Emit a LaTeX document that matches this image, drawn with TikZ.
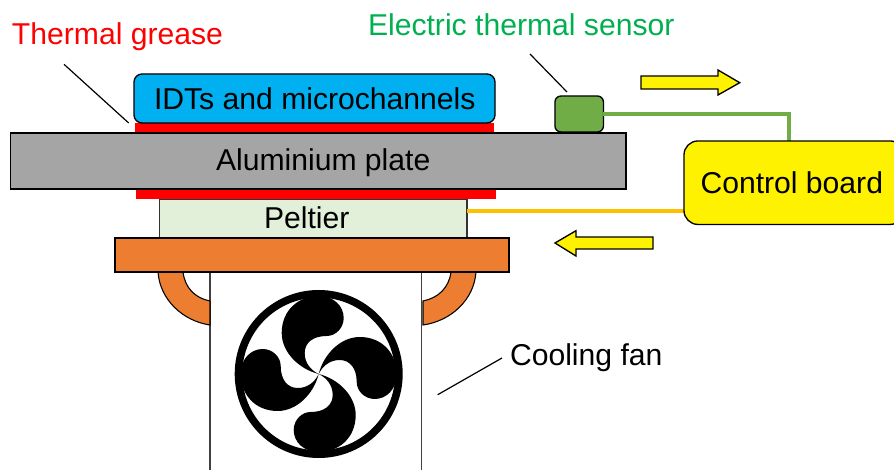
\documentclass[tikz,border=0pt]{standalone}
\usepackage{fontspec}
\setmainfont{Liberation Sans}
\tikzset{
  pxsize/.style 2 args={minimum width=#1*0.75pt, minimum height=#2*0.75pt},
  part/.style={draw=black, line width=1pt, inner sep=0pt, outer sep=0pt},
  lbl/.style={inner sep=0pt, outer sep=0pt, anchor=base west, font=\fontsize{22.6}{26}\selectfont, text=black},
  leader/.style={draw=black, line width=0.9pt},
  flow/.style={draw=black, fill=yellow, line width=1pt, line join=miter},
  brace/.style={draw=black, fill=brace0, line width=0.8pt},
  blade/.style={fill=black, draw=none},
  wire/.style={line width=2.6pt, line cap=butt}
}
\definecolor{brace0}{HTML}{ED7D31}
\definecolor{idtblue}{HTML}{00B0F0}
\definecolor{plategray}{HTML}{A5A5A5}
\definecolor{peltiergreen}{HTML}{E2EFD9}
\definecolor{sensorgreen}{HTML}{70AD47}
\definecolor{textgreen}{HTML}{00B050}
\definecolor{wireyellow}{HTML}{FFC000}
\begin{document}
\begin{tikzpicture}[x=0.75pt,y=-0.75pt]
\useasboundingbox (0,0) rectangle (894,470);
\clip (0,0) rectangle (894,470);
% fan housing
\node[part, draw=black!75, line width=1.4pt, fill=white, pxsize={211.5}{240}] (housing) at (315.75,392) {};
% fan symbol
\begin{scope}[shift={(318.7,374)}]
  \draw[line width=5.7pt] (0,0) circle [radius=80.2*0.75pt];
  \foreach \a in {0,90,180,270}{
    \fill[blade, rotate=\a] (0,0) .. controls (-20,-5) and (-37,-22) .. (-37,-41)
      .. controls (-37,-64) and (-20,-78) .. (0,-78)
      .. controls (15,-78) and (25,-68) .. (25,-56)
      .. controls (25,-46) and (17,-38) .. (8,-38)
      .. controls (-6,-38) and (-14,-31) .. (-14,-21)
      .. controls (-14,-11) and (-8,-4) .. (0,0) -- cycle;
  }
\end{scope}
% brackets
\draw[brace] (158,272) .. controls (160,300) and (183,321) .. (210,325) -- (210,301)
  .. controls (195,298) and (185,288) .. (183,272) -- cycle;
\draw[brace] (476,272) .. controls (474,300) and (451,321) .. (423,325) -- (423,301)
  .. controls (438,298) and (449,288) .. (451,272) -- cycle;
% stack
\node[part, fill=peltiergreen, draw=black!80, pxsize={307.5}{39}] (peltier) at (313.2,218.5) {};
\node[part, fill=brace0, pxsize={394}{34}] (sink) at (312,255) {};
\fill[red] (134.5,123.5) rectangle (494,133);
\fill[red] (136,189) rectangle (496,199);
\node[part, fill=plategray, pxsize={615.5}{56}] (plate) at (318.2,161) {};
\node[part, fill=idtblue, rounded corners=8*0.75pt, pxsize={361}{49}] (idt) at (314.5,98.5) {};
\node[lbl] (pelttext) at (264,228.5) {Peltier};
\node[lbl] (platetext) at (216,170.5) {Aluminium plate};
\node[lbl] (idttext) at (154,109.5) {IDTs and microchannels};
% sensor and board
\node[part, fill=sensorgreen, rounded corners=6*0.75pt, pxsize={48.5}{36}] (sensor) at (579.2,114) {};
\coordinate (boardtop) at (789,141);
\coordinate (peltierport) at (467,211);
\coordinate (boardport) at (684,211);
\draw[sensorgreen, wire] (sensor.east) -| (boardtop);
\draw[wireyellow, wire] (peltierport) -- (boardport);
\node[part, fill=yellow, rounded corners=14*0.75pt, pxsize={220}{83.5}, anchor=west] (board) at (684,182.7) {};
\node[lbl] (boardtext) at (700.5,193.5) {Control board};
% flow arrows
\draw[flow] (641,76) -- (718,76) -- (718,70) -- (739.7,82.7) -- (718,95) -- (718,89) -- (641,89) -- cycle;
\draw[flow] (653,237) -- (576,237) -- (576,230.7) -- (555,243) -- (576,256) -- (576,249) -- (653,249) -- cycle;
% labels
\node[lbl, text=red] (grease) at (12,45) {Thermal grease};
\node[lbl, text=textgreen] (sensortext) at (368,36) {Electric thermal sensor};
\node[lbl] (fantext) at (510,366) {Cooling fan};
% leaders
\coordinate (g1) at (64,64.3);
\coordinate (g2) at (128.7,123);
\coordinate (s1) at (530,54);
\coordinate (s2) at (567,92);
\coordinate (f1) at (502,358);
\coordinate (f2) at (437.7,394.7);
\draw[leader] (g1) -- (g2);
\draw[leader] (s1) -- (s2);
\draw[leader] (f1) -- (f2);
\end{tikzpicture}
\end{document}
